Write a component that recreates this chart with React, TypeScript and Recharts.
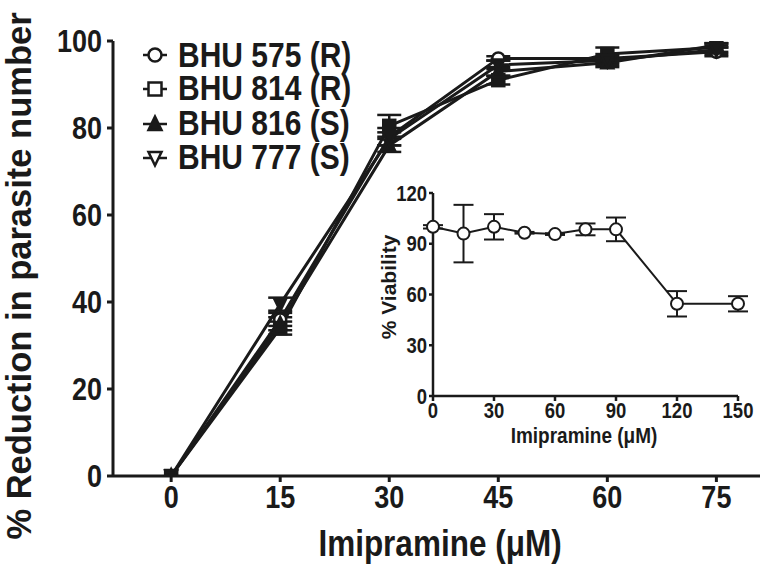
import React from "react";
import { ErrorBar, Line, LineChart, XAxis, YAxis } from "recharts";

// main panel: % reduction in parasite number vs imipramine (uM)
const doses = [0, 15, 30, 45, 60, 75];
const bhu575 = [0, 36, 78, 96, 96, 97.5];
const bhu814 = [0, 34, 80.5, 91, 97, 98.5];
const bhu816 = [0, 35, 76, 93, 95, 99];
const bhu777 = [0, 39.5, 77.5, 94.5, 95.5, 98];
const err575 = [0, 1.5, 2, 0.5, 1, 1];
const err814 = [0, 1.5, 2.5, 1, 1.5, 1];
const err816 = [0, 1.5, 1.5, 1, 1, 0.5];
const err777 = [0, 1.5, 1.5, 1, 1, 1];
const mainXTicks = [0, 15, 30, 45, 60, 75];
const mainYTicks = [0, 20, 40, 60, 80, 100];

// inset: % viability
const insetDoses = [0, 15, 30, 45, 60, 75, 90, 120, 150];
const viability = [100, 96, 100, 96.5, 95.7, 98.5, 98.5, 54.5, 54.5];
const viabilityErr = [1, 17, 7.5, 0.5, 0.5, 3.5, 7, 7.5, 4.5];
const insetXTicks = [0, 30, 60, 90, 120, 150];
const insetYTicks = [0, 30, 60, 90, 120];

const FONT = "'Liberation Sans', Arial, Helvetica, sans-serif";
const INK = "#1a1a1a";
const STRETCH = 1.15;

const mainData = doses.map((d, i) => ({
  dose: d,
  s575: bhu575[i],
  s814: bhu814[i],
  s816: bhu816[i],
  s777: bhu777[i],
  e575: err575[i],
  e814: err814[i],
  e816: err816[i],
  e777: err777[i],
}));

const insetData = insetDoses.map((d, i) => ({ dose: d, v: viability[i], e: viabilityErr[i] }));

const SERIES = [
  { key: "s575", err: "e575", label: "BHU 575 (R)", shape: "circle" },
  { key: "s814", err: "e814", label: "BHU 814 (R)", shape: "square" },
  { key: "s816", err: "e816", label: "BHU 816 (S)", shape: "up" },
  { key: "s777", err: "e777", label: "BHU 777 (S)", shape: "down" },
];

function Marker({ cx, cy, shape, size = 6, legend = false }: any) {
  if (cx == null || cy == null) return null;
  const s = size;
  if (shape === "circle") {
    return <circle cx={cx} cy={cy} r={s} fill="#fff" stroke={INK} strokeWidth={2.5} />;
  }
  if (shape === "square") {
    return (
      <rect
        x={cx - s}
        y={cy - s}
        width={s * 2}
        height={s * 2}
        fill={legend ? "#fff" : INK}
        stroke={INK}
        strokeWidth={2.5}
      />
    );
  }
  const h = s * 1.15;
  const pts =
    shape === "up"
      ? `${cx},${cy - h} ${cx - s},${cy + h * 0.8} ${cx + s},${cy + h * 0.8}`
      : `${cx},${cy + h} ${cx - s},${cy - h * 0.8} ${cx + s},${cy - h * 0.8}`;
  return (
    <polygon
      points={pts}
      fill={legend && shape === "down" ? "#fff" : INK}
      stroke={INK}
      strokeWidth={2.5}
      strokeLinejoin="miter"
    />
  );
}

function StretchTick({ x, y, payload, anchor, size, dy }: any) {
  return (
    <g transform={`translate(${x},${y}) scale(1,${STRETCH})`}>
      <text
        textAnchor={anchor}
        dy={dy}
        fontFamily={FONT}
        fontWeight="bold"
        fontSize={size}
        fill={INK}
      >
        {payload.value}
      </text>
    </g>
  );
}

function LegendBox() {
  return (
    <div style={{ position: "absolute", left: 141, top: 38, fontFamily: FONT, color: INK }}>
      {SERIES.map((s) => (
        <div key={s.key} style={{ display: "flex", alignItems: "center", height: 34.3 }}>
          <svg width={28} height={24} style={{ marginRight: 9 }}>
            <line x1={2} y1={12} x2={26} y2={12} stroke={INK} strokeWidth={2.5} />
            <Marker cx={14} cy={12} shape={s.shape} size={6.5} legend />
          </svg>
          <span
            style={{
              fontSize: 30,
              fontWeight: "bold",
              display: "inline-block",
              transform: `scaleY(${STRETCH})`,
              whiteSpace: "nowrap",
            }}
          >
            {s.label}
          </span>
        </div>
      ))}
    </div>
  );
}

// axis titles are drawn in one overlay, in page coordinates
function Titles() {
  const base = { fontFamily: FONT, fontWeight: "bold" as const, fill: INK, textAnchor: "middle" as const };
  return (
    <svg
      width={780}
      height={569}
      style={{ position: "absolute", left: 0, top: 0, pointerEvents: "none" }}
    >
      <text {...base} fontSize={34.5} transform="translate(31,276) rotate(-90)">
        % Reduction in parasite number
      </text>
      <g transform={`translate(440,556) scale(1,${STRETCH})`}>
        <text {...base} fontSize={31.5}>
          Imipramine (μM)
        </text>
      </g>
      <text {...base} fontSize={21} transform="translate(396,287) rotate(-90)">
        % Viability
      </text>
      <g transform={`translate(584,443) scale(1,${STRETCH})`}>
        <text {...base} fontSize={19}>
          Imipramine (μM)
        </text>
      </g>
    </svg>
  );
}

export default function App() {
  return (
    <div style={{ position: "absolute", left: 0, top: 0, width: 780, height: 569, background: "#fff" }}>
      <LineChart
        width={780}
        height={569}
        data={mainData}
        margin={{ top: 41, right: 20, bottom: 0, left: 0 }}
        style={{ position: "absolute", left: 0, top: 0 }}
      >
        <XAxis
          type="number"
          dataKey="dose"
          domain={[-8, 81]}
          ticks={mainXTicks}
          height={93}
          axisLine={{ stroke: INK, strokeWidth: 3 }}
          tickLine={{ stroke: INK, strokeWidth: 3 }}
          tickSize={6}
          tickMargin={4}
          tick={<StretchTick anchor="middle" size={27} dy="0.72em" />}
        />
        <YAxis
          type="number"
          domain={[0, 100]}
          ticks={mainYTicks}
          width={113}
          allowDataOverflow
          axisLine={{ stroke: INK, strokeWidth: 3 }}
          tickLine={{ stroke: INK, strokeWidth: 3 }}
          tickSize={6}
          tickMargin={5}
          tick={<StretchTick anchor="end" size={27} dy="0.36em" />}
        />
        {SERIES.map((s) => (
          <Line
            key={s.key}
            dataKey={s.key}
            name={s.label}
            stroke={INK}
            strokeWidth={3}
            isAnimationActive={false}
            dot={(p: any) => <Marker key={`${s.key}-${p.index}`} cx={p.cx} cy={p.cy} shape={s.shape} size={6} />}
            activeDot={false}
          >
            <ErrorBar dataKey={s.err} width={12} stroke={INK} strokeWidth={2.5} direction="y" />
          </Line>
        ))}
      </LineChart>

      <LineChart
        width={390}
        height={290}
        data={insetData}
        margin={{ top: 28, right: 22, bottom: 0, left: 0 }}
        style={{ position: "absolute", left: 370, top: 165 }}
      >
        <XAxis
          type="number"
          dataKey="dose"
          domain={[0, 150]}
          ticks={insetXTicks}
          height={59}
          axisLine={{ stroke: INK, strokeWidth: 2.5 }}
          tickLine={{ stroke: INK, strokeWidth: 2.5 }}
          tickSize={5}
          tickMargin={2}
          tick={<StretchTick anchor="middle" size={18.5} dy="0.72em" />}
        />
        <YAxis
          type="number"
          domain={[0, 120]}
          ticks={insetYTicks}
          width={63}
          axisLine={{ stroke: INK, strokeWidth: 2.5 }}
          tickLine={{ stroke: INK, strokeWidth: 2.5 }}
          tickSize={4}
          tickMargin={2}
          tick={<StretchTick anchor="end" size={18.5} dy="0.36em" />}
        />
        <Line
          dataKey="v"
          stroke={INK}
          strokeWidth={2}
          isAnimationActive={false}
          dot={{ r: 6, fill: "#fff", stroke: INK, strokeWidth: 2 }}
          activeDot={false}
        >
          <ErrorBar dataKey="e" width={10} stroke={INK} strokeWidth={2} direction="y" />
        </Line>
      </LineChart>

      <LegendBox />
      <Titles />
    </div>
  );
}
